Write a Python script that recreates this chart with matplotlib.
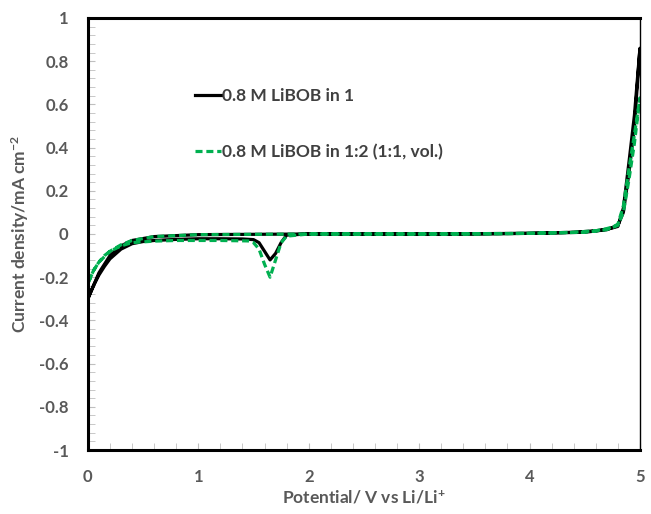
import numpy as np
import matplotlib
matplotlib.use('Agg')
import matplotlib.pyplot as plt
from matplotlib.ticker import MultipleLocator

plt.rcParams['font.family'] = ['Lato', 'DejaVu Sans']
plt.rcParams['mathtext.fontset'] = 'custom'
plt.rcParams['mathtext.rm'] = 'Lato:bold'
plt.rcParams['mathtext.default'] = 'regular'

# black: 0.8 M LiBOB in 1  (forward scan 0 -> 5 V, then back)
blk_fx = [0, 0.05, 0.1, 0.15, 0.2, 0.3, 0.4, 0.5, 0.6, 0.8, 1.0, 1.2, 1.4, 1.5, 1.55, 1.6, 1.65,
          1.7, 1.75, 1.8, 2.0, 2.5, 3.0, 3.5, 4.0, 4.4, 4.6, 4.7, 4.75, 4.8, 4.85, 4.9, 4.95, 5.0]
blk_fy = [-0.30, -0.24, -0.19, -0.15, -0.115, -0.07, -0.045, -0.035, -0.03, -0.025, -0.022, -0.022,
          -0.023, -0.026, -0.04, -0.08, -0.12, -0.09, -0.04, -0.005, 0, 0, 0, 0, 0.003, 0.008,
          0.015, 0.022, 0.028, 0.035, 0.12, 0.33, 0.55, 0.86]
blk_rx = [5.0, 4.95, 4.9, 4.85, 4.8, 4.7, 4.5, 4.0, 3.0, 2.0, 1.0, 0.6, 0.4, 0.3, 0.2, 0.1, 0.05, 0]
blk_ry = [0.86, 0.50, 0.28, 0.10, 0.04, 0.02, 0.008, 0.003, 0, 0, -0.003, -0.012, -0.03, -0.055,
          -0.1, -0.18, -0.24, -0.30]

# green: 0.8 M LiBOB in 1:2 (1:1, vol.)
grn_fx = [0, 0.05, 0.1, 0.15, 0.2, 0.3, 0.4, 0.6, 0.8, 1.0, 1.2, 1.45, 1.5, 1.55, 1.6, 1.65, 1.7,
          1.75, 1.8, 2.0, 2.5, 3.0, 3.5, 4.0, 4.4, 4.6, 4.7, 4.75, 4.8, 4.85, 4.9, 4.95, 5.0]
grn_fy = [-0.23, -0.17, -0.13, -0.10, -0.08, -0.055, -0.04, -0.033, -0.03, -0.03, -0.03, -0.032,
          -0.04, -0.07, -0.14, -0.20, -0.12, -0.04, -0.01, 0, 0, 0, 0, 0.003, 0.008, 0.015, 0.025,
          0.032, 0.045, 0.13, 0.30, 0.46, 0.63]
grn_rx = [5.0, 4.95, 4.9, 4.85, 4.8, 4.7, 4.5, 4.0, 3.0, 2.0, 1.0, 0.6, 0.4, 0.3, 0.2, 0.1, 0.05, 0]
grn_ry = [0.63, 0.42, 0.25, 0.10, 0.04, 0.02, 0.008, 0.003, 0, 0, -0.003, -0.012, -0.03, -0.05,
          -0.08, -0.13, -0.17, -0.23]

labels = ['0.8 M LiBOB in 1', '0.8 M LiBOB in 1:2 (1:1, vol.)']
yticklabels = ['-1', '-0.8', '-0.6', '-0.4', '-0.2', '0', '0.2', '0.4', '0.6', '0.8', '1']

fig = plt.figure(figsize=(6.51, 5.14), dpi=100)
ax = fig.add_axes([0.135, 0.1245, 0.848, 0.8405])

ax.plot(blk_fx + blk_rx, blk_fy + blk_ry, color='black', lw=2.3, label=labels[0])
ax.plot(grn_fx + grn_rx, grn_fy + grn_ry, color='#00B050', lw=2.3, ls=(0, (2.2, 1.2)), label=labels[1])

ax.set_xlim(0, 5)
ax.set_ylim(-1, 1)
ax.xaxis.set_major_locator(MultipleLocator(1))
ax.xaxis.set_minor_locator(MultipleLocator(0.2))
ax.set_yticks(np.arange(-1, 1.01, 0.2))
ax.set_yticklabels(yticklabels)
ax.yaxis.set_minor_locator(MultipleLocator(0.04))
ax.tick_params(which='both', direction='in', color='#BFBFBF', labelcolor='#595959',
               labelsize=12, pad=14, length=5)
for lab in ax.get_xticklabels() + ax.get_yticklabels():
    lab.set_fontweight('bold')

for s in ['left', 'bottom', 'top']:
    ax.spines[s].set_linewidth(2.2)
ax.spines['right'].set_linewidth(1.0)

ax.set_xlabel('Potential/ V vs Li/Li$^{+}$', fontsize=12.5, fontweight='bold', color='#595959', labelpad=3)
ax.set_ylabel('Current density/mA cm$^{-2}$', fontsize=12.5, fontweight='bold', color='#595959', labelpad=6)

leg = ax.legend(loc='upper left', bbox_to_anchor=(0.165, 0.875), frameon=False, handlelength=1.5,
                handletextpad=0.1, labelspacing=2.3, prop={'weight': 'bold', 'size': 12.5})
for t in leg.get_texts():
    t.set_color('#404040')

fig.savefig('out.png', dpi=100)
